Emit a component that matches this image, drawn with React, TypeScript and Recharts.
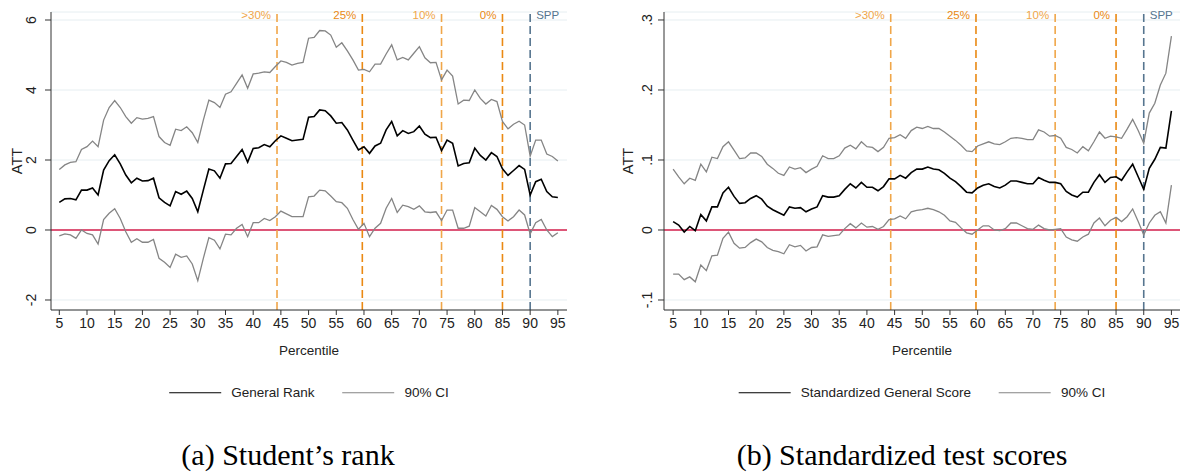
import React from 'react';
import {
  LineChart,
  Line,
  XAxis,
  YAxis,
  CartesianGrid,
  ReferenceLine,
} from 'recharts';

document.body.style.margin = '0';

const percentiles = [
  5, 6, 7, 8, 9, 10, 11, 12, 13, 14, 15, 16, 17, 18, 19, 20, 21, 22, 23, 24,
  25, 26, 27, 28, 29, 30, 31, 32, 33, 34, 35, 36, 37, 38, 39, 40, 41, 42, 43, 44,
  45, 46, 47, 48, 49, 50, 51, 52, 53, 54, 55, 56, 57, 58, 59, 60, 61, 62, 63, 64,
  65, 66, 67, 68, 69, 70, 71, 72, 73, 74, 75, 76, 77, 78, 79, 80, 81, 82, 83, 84,
  85, 86, 87, 88, 89, 90, 91, 92, 93, 94, 95,
];
const xTicks = [5, 10, 15, 20, 25, 30, 35, 40, 45, 50, 55, 60, 65, 70, 75, 80, 85, 90, 95];

// (a) general rank
const rankATT = [
  0.79, 0.89, 0.9, 0.86, 1.14, 1.14, 1.2, 1.0, 1.71, 1.98,
  2.15, 1.89, 1.57, 1.35, 1.48, 1.4, 1.41, 1.48, 0.92, 0.79,
  0.69, 1.1, 1.02, 1.11, 0.9, 0.52, 1.14, 1.74, 1.69, 1.48,
  1.89, 1.9, 2.1, 2.3, 1.94, 2.33, 2.35, 2.44, 2.38, 2.55,
  2.69, 2.62, 2.55, 2.57, 2.59, 3.22, 3.24, 3.43, 3.41, 3.26,
  3.05, 3.07, 2.86, 2.57, 2.29, 2.38, 2.19, 2.4, 2.48, 2.86,
  3.1, 2.69, 2.84, 2.76, 2.81, 2.97, 2.74, 2.64, 2.65, 2.27,
  2.57, 2.48, 1.83, 1.9, 1.92, 2.34, 2.13, 2.0, 2.21, 2.1,
  1.75, 1.56, 1.7, 1.84, 1.73, 1.0, 1.38, 1.45, 1.1, 0.95, 0.93,
];
const rankUpper = [
  1.73, 1.86, 1.93, 1.95, 2.3, 2.38, 2.54, 2.38, 3.14, 3.5,
  3.7, 3.5, 3.24, 3.05, 3.21, 3.17, 3.19, 3.24, 2.67, 2.5,
  2.42, 2.88, 2.84, 2.95, 2.78, 2.5, 3.14, 3.71, 3.64, 3.5,
  3.88, 3.95, 4.19, 4.43, 4.05, 4.46, 4.48, 4.52, 4.5, 4.67,
  4.83, 4.79, 4.71, 4.76, 4.79, 5.48, 5.5, 5.7, 5.69, 5.57,
  5.22, 5.35, 5.12, 4.86, 4.57, 4.59, 4.52, 4.74, 4.74, 5.03,
  5.29, 4.86, 4.93, 4.86, 5.05, 5.24, 4.92, 4.78, 4.79, 4.29,
  4.57, 4.4, 3.6, 3.71, 3.7, 4.0, 3.76, 3.6, 3.73, 3.67,
  3.1, 2.89, 3.02, 3.11, 3.0, 2.11, 2.57, 2.57, 2.17, 2.1, 1.97,
];
const rankLower = [
  -0.17, -0.11, -0.14, -0.24, 0.0, -0.1, -0.14, -0.4, 0.3, 0.48,
  0.61, 0.33, -0.05, -0.35, -0.25, -0.35, -0.35, -0.27, -0.81, -0.92,
  -1.07, -0.69, -0.78, -0.74, -0.97, -1.45, -0.81, -0.22, -0.29, -0.54,
  -0.12, -0.14, 0.05, 0.16, -0.19, 0.21, 0.21, 0.33, 0.27, 0.38,
  0.54, 0.46, 0.38, 0.38, 0.38, 0.95, 0.97, 1.14, 1.12, 0.97,
  0.81, 0.78, 0.62, 0.3, 0.02, 0.19, -0.19, 0.05, 0.19, 0.62,
  0.9, 0.5, 0.71, 0.67, 0.59, 0.69, 0.52, 0.5, 0.52, 0.27,
  0.57, 0.57, 0.05, 0.05, 0.11, 0.64, 0.52, 0.4, 0.7, 0.59,
  0.38, 0.26, 0.38, 0.57, 0.43, -0.11, 0.21, 0.3, 0.0, -0.19, -0.08,
];
const rankTicks = [-2, 0, 2, 4, 6];
const rankTickLabels = ['-2', '0', '2', '4', '6'];

// (b) standardized general score
const scoreATT = [
  0.012, 0.007, -0.003, 0.005, -0.001, 0.022, 0.013, 0.033, 0.033, 0.053,
  0.061, 0.048, 0.038, 0.039, 0.045, 0.049, 0.044, 0.034, 0.029, 0.025,
  0.021, 0.033, 0.031, 0.032, 0.026, 0.03, 0.033, 0.049, 0.047, 0.047,
  0.049, 0.058, 0.066, 0.06, 0.068, 0.061, 0.061, 0.056, 0.062, 0.073,
  0.073, 0.078, 0.074, 0.082, 0.087, 0.087, 0.09, 0.087, 0.086, 0.081,
  0.074, 0.069, 0.062, 0.054, 0.053, 0.06, 0.064, 0.066, 0.062, 0.06,
  0.064, 0.07, 0.07, 0.068, 0.066, 0.066, 0.075, 0.071, 0.068, 0.068,
  0.066, 0.055, 0.05, 0.047, 0.054, 0.054, 0.068, 0.079, 0.068, 0.075,
  0.076, 0.071, 0.083, 0.094, 0.076, 0.058, 0.088, 0.101, 0.118, 0.117, 0.17,
];
const scoreUpper = [
  0.087, 0.076, 0.066, 0.074, 0.071, 0.094, 0.083, 0.104, 0.102, 0.119,
  0.126, 0.114, 0.102, 0.103, 0.11, 0.11, 0.105, 0.094, 0.088, 0.081,
  0.078, 0.09, 0.087, 0.089, 0.082, 0.087, 0.091, 0.106, 0.102, 0.102,
  0.106, 0.117, 0.121, 0.116, 0.126, 0.119, 0.118, 0.112, 0.118, 0.131,
  0.132, 0.136, 0.131, 0.142, 0.147, 0.145, 0.148, 0.145, 0.145, 0.14,
  0.134, 0.128, 0.121, 0.113, 0.112, 0.12, 0.123, 0.126, 0.123, 0.122,
  0.126, 0.131, 0.132, 0.131, 0.129, 0.129, 0.143, 0.14, 0.134, 0.135,
  0.131, 0.118, 0.115, 0.11, 0.119, 0.113, 0.126, 0.14, 0.131, 0.134,
  0.133, 0.131, 0.144, 0.158, 0.142, 0.124, 0.167, 0.181, 0.207, 0.224, 0.277,
];
const scoreLower = [
  -0.063, -0.063, -0.071, -0.067, -0.074, -0.05, -0.058, -0.037, -0.036, -0.012,
  -0.003, -0.019, -0.026, -0.025, -0.018, -0.013, -0.017, -0.025, -0.029, -0.031,
  -0.034, -0.021, -0.024, -0.022, -0.03, -0.025, -0.024, -0.007, -0.009, -0.008,
  -0.007, 0.002, 0.009, 0.003, 0.01, 0.004, 0.005, 0.001, 0.005, 0.015,
  0.016, 0.02, 0.016, 0.026, 0.028, 0.029, 0.031, 0.029, 0.026, 0.021,
  0.013, 0.011, 0.003, -0.004, -0.006, 0.0, 0.006, 0.006, 0.0, -0.001,
  0.002, 0.01, 0.01, 0.006, 0.002, 0.001, 0.007, 0.002, 0.0, 0.001,
  0.002, -0.01, -0.014, -0.016, -0.01, -0.006, 0.01, 0.017, 0.006, 0.014,
  0.018, 0.012, 0.019, 0.03, 0.012, -0.007, 0.01, 0.021, 0.026, 0.01, 0.064,
];
const scoreTicks = [-0.1, 0, 0.1, 0.2, 0.3];
const scoreTickLabels = ['-.1', '0', '.1', '.2', '.3'];

// cutoff lines
const cutoffs = [44.3, 59.7, 74, 85, 90];
const cutoffLabels = ['>30%', '25%', '10%', '0%', 'SPP'];
const cutoffColors = ['#f0a649', '#ea8913', '#f0a649', '#ea8913', '#56758f'];

const FONT = '"Liberation Sans", Arial, sans-serif';

const CutoffLabel = ({ viewBox, text, color, right }: any) => {
  const { x, y } = viewBox || {};
  return (
    <text
      x={right ? x + 6 : x - 6}
      y={y + 7}
      textAnchor={right ? 'start' : 'end'}
      fill={color}
      fontSize={11.5}
      fontFamily={FONT}
    >
      {text}
    </text>
  );
};

const YTick = ({ x, y, payload, ticks, labels, shift }: any) => {
  const idx = ticks.findIndex((t: number) => Math.abs(t - payload.value) < 1e-9);
  const cx = x - shift;
  return (
    <text
      x={cx}
      y={y}
      dy="0.35em"
      transform={`rotate(-90, ${cx}, ${y})`}
      textAnchor="middle"
      fill="#222"
      fontSize={14}
      fontFamily={FONT}
    >
      {idx >= 0 ? labels[idx] : payload.value}
    </text>
  );
};

const Centered = ({ x, y, children, style }: any) => (
  <div
    style={{
      position: 'absolute',
      left: x,
      top: y,
      transform: 'translate(-50%, -50%)',
      whiteSpace: 'nowrap',
      lineHeight: 1,
      ...style,
    }}
  >
    {children}
  </div>
);

function Panel({ att, upper, lower, ticks, labels, domainY, domainX, axisW, right, tickShift, titleX, mainName, caption, captionX }: any) {
  const data = percentiles.map((p, i) => ({ p, att: att[i], hi: upper[i], lo: lower[i] }));
  const plotLeft = axisW;
  const plotRight = 594 - right;
  const mid = (plotLeft + plotRight) / 2;
  return (
    <div style={{ position: 'relative', width: 594, height: 472, overflow: 'hidden', fontFamily: FONT, color: '#222' }}>
      <LineChart width={594} height={340} data={data} margin={{ top: 12, right, left: 0, bottom: 0 }}>
        <CartesianGrid vertical={false} stroke="#e6eef1" strokeWidth={1} />
        <XAxis
          dataKey="p"
          type="number"
          domain={domainX}
          ticks={xTicks}
          allowDataOverflow
          height={30}
          tickSize={5}
          tickMargin={3}
          interval={0}
          stroke="#333"
          tick={{ fill: '#222', fontSize: 14, fontFamily: FONT }}
        />
        <YAxis
          type="number"
          domain={domainY}
          ticks={ticks}
          allowDataOverflow
          width={axisW}
          tickSize={6}
          tickMargin={0}
          interval={0}
          stroke="#333"
          tick={<YTick ticks={ticks} labels={labels} shift={tickShift} />}
        />
        <ReferenceLine y={0} stroke="#d6204e" strokeWidth={1.6} />
        {cutoffs.map((c, i) => (
          <ReferenceLine
            key={c}
            x={c}
            stroke={cutoffColors[i]}
            strokeWidth={1.6}
            strokeDasharray="8 4"
            label={<CutoffLabel text={cutoffLabels[i]} color={cutoffColors[i]} right={i === cutoffs.length - 1} />}
          />
        ))}
        <Line type="linear" dataKey="hi" stroke="#858585" strokeWidth={1.3} dot={false} isAnimationActive={false} />
        <Line type="linear" dataKey="lo" stroke="#858585" strokeWidth={1.3} dot={false} isAnimationActive={false} />
        <Line type="linear" dataKey="att" stroke="#000" strokeWidth={1.6} dot={false} isAnimationActive={false} />
      </LineChart>
      <Centered x={titleX} y={161} style={{ fontSize: 14.5, transform: 'translate(-50%, -50%) rotate(-90deg)' }}>
        ATT
      </Centered>
      <Centered x={mid} y={351} style={{ fontSize: 13.5 }}>
        Percentile
      </Centered>
      <Centered x={mid} y={393} style={{ fontSize: 13.5, display: 'flex', alignItems: 'center' }}>
        <span style={{ display: 'inline-block', width: 52, height: 0, borderTop: '1.6px solid #000', marginRight: 10 }} />
        <span style={{ marginRight: 28 }}>{mainName}</span>
        <span style={{ display: 'inline-block', width: 52, height: 0, borderTop: '1.4px solid #858585', marginRight: 10 }} />
        <span>90% CI</span>
      </Centered>
      <Centered x={captionX} y={455} style={{ fontSize: 30, fontFamily: '"Liberation Serif", "Times New Roman", serif', color: '#000' }}>
        {caption}
      </Centered>
    </div>
  );
}

export default function App() {
  return (
    <div style={{ display: 'flex', width: 1188, height: 472, background: '#fff' }}>
      <Panel
        att={rankATT}
        upper={rankUpper}
        lower={rankLower}
        ticks={rankTicks}
        labels={rankTickLabels}
        domainY={[-2.286, 6.229]}
        domainX={[3.5, 96.65]}
        axisW={51}
        right={27}
        tickShift={14}
        titleX={17}
        mainName="General Rank"
        caption="(a) Student’s rank"
        captionX={288}
      />
      <Panel
        att={scoreATT}
        upper={scoreUpper}
        lower={scoreLower}
        ticks={scoreTicks}
        labels={scoreTickLabels}
        domainY={[-0.1143, 0.3114]}
        domainX={[3.35, 96.55]}
        axisW={70}
        right={8}
        tickShift={11}
        titleX={34}
        mainName="Standardized General Score"
        caption="(b) Standardized test scores"
        captionX={308}
      />
    </div>
  );
}
